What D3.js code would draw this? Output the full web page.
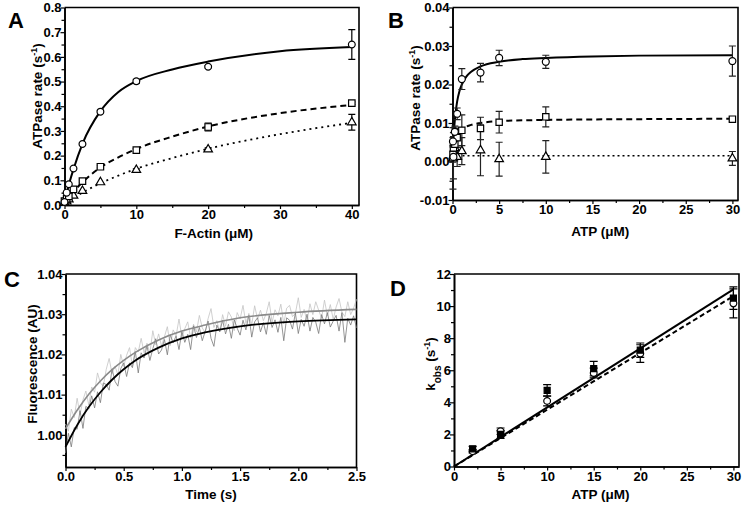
<!DOCTYPE html>
<html><head><meta charset="utf-8">
<script src="https://cdn.jsdelivr.net/npm/d3@7"></script>
<style>body{margin:0;background:#fff}</style>
</head><body><svg id="c" width="745" height="509"></svg>
<script>
// ---------- Panel A data ----------
const aX = [0, 0.3, 0.6, 1.25, 2.5, 5, 10, 20, 40];
const aCircleY = [0.012, 0.05, 0.084, 0.148, 0.247, 0.378, 0.501, 0.56, 0.65];
const aCircleErr = [0, 0, 0, 0, 0.005, 0.005, 0.008, 0.005, 0.06];
const aSquareY = [0.016, 0.025, 0.035, 0.063, 0.097, 0.155, 0.222, 0.316, 0.413];
const aSquareErr = [0.004, 0, 0, 0, 0.005, 0.005, 0.006, 0.016, 0.005];
const aTriY = [0.008, 0.015, 0.023, 0.038, 0.057, 0.092, 0.142, 0.225, 0.335];
const aTriErr = [0, 0, 0, 0, 0, 0, 0.004, 0.006, 0.032];
const aFitX = [0, 0.5, 1.25, 2.5, 5, 7.5, 10, 15, 20, 30, 40];
const aFitSolidY = [0.005, 0.07, 0.145, 0.248, 0.38, 0.458, 0.502, 0.549, 0.581, 0.623, 0.64];
const aFitDashedY = [0.01, 0.032, 0.055, 0.092, 0.152, 0.193, 0.227, 0.277, 0.318, 0.372, 0.405];
const aFitDottedY = [0.004, 0.015, 0.028, 0.05, 0.088, 0.119, 0.147, 0.19, 0.228, 0.287, 0.333];
const aXTicks = [0, 10, 20, 30, 40];
const aXLabels = ["0", "10", "20", "30", "40"];
const aXMinor = [5, 15, 25, 35];
const aYTicks = [0, 0.1, 0.2, 0.3, 0.4, 0.5, 0.6, 0.7, 0.8];
const aYLabels = ["0.0", "0.1", "0.2", "0.3", "0.4", "0.5", "0.6", "0.7", "0.8"];
const aYMinor = [0.05, 0.15, 0.25, 0.35, 0.45, 0.55, 0.65, 0.75];

// ---------- Panel B data ----------
const bX = [0.05, 0.1, 0.25, 0.5, 1, 3, 5, 10, 30];
const bCircleY = [0.0052, 0.0012, 0.0077, 0.0124, 0.0214, 0.0231, 0.0269, 0.0259, 0.0261];
const bCircleErr = [0.001, 0.001, 0.0015, 0.0015, 0.0027, 0.0024, 0.002, 0.0017, 0.0039];
const bSquareY = [0.0018, 0.0035, 0.0045, 0.0062, 0.0081, 0.0086, 0.0102, 0.0116, 0.0110];
const bSquareErr = [0.002, 0.003, 0.004, 0.0025, 0.004, 0.0029, 0.0028, 0.0026, 0.0005];
const bTriY = [0.0008, 0.0015, 0.0035, 0.0012, 0.0027, 0.0029, 0.0006, 0.0012, 0.0008];
const bTriErr = [0.008, 0.006, 0.003, 0.0025, 0.0035, 0.0066, 0.0044, 0.0042, 0.0018];
const bFitSolidX = [0, 0.1, 0.2, 0.3, 0.5, 0.75, 1, 1.5, 2, 3, 5, 7.5, 10, 15, 20, 30];
const bFitSolidY = [0, 0.0056, 0.0093, 0.012, 0.0156, 0.0183, 0.02, 0.0221, 0.0233, 0.0247, 0.0259, 0.0266, 0.0269, 0.0273, 0.0275, 0.0276];
const bFitDashedX = [0, 0.1, 0.25, 0.5, 1, 2, 3, 5, 10, 20, 30];
const bFitDashedY = [0, 0.0025, 0.0047, 0.0066, 0.0083, 0.0095, 0.0100, 0.0105, 0.0108, 0.0110, 0.0111];
const bFitDottedX = [0, 30];
const bFitDottedY = [0.0015, 0.0015];
const bXTicks = [0, 5, 10, 15, 20, 25, 30];
const bXLabels = ["0", "5", "10", "15", "20", "25", "30"];
const bXMinor = [2.5, 7.5, 12.5, 17.5, 22.5, 27.5];
const bYTicks = [-0.01, 0, 0.01, 0.02, 0.03, 0.04];
const bYLabels = ["-0.01", "0.00", "0.01", "0.02", "0.03", "0.04"];
const bYMinor = [-0.005, 0.005, 0.015, 0.025, 0.035];

// ---------- Panel C data ----------
const cTime = [0,0.025,0.05,0.075,0.1,0.125,0.15,0.175,0.2,0.225,
0.25,0.275,0.3,0.325,0.35,0.375,0.4,0.425,0.45,0.475,
0.5,0.525,0.55,0.575,0.6,0.625,0.65,0.675,0.7,0.725,
0.75,0.775,0.8,0.825,0.85,0.875,0.9,0.925,0.95,0.975,
1,1.025,1.05,1.075,1.1,1.125,1.15,1.175,1.2,1.225,
1.25,1.275,1.3,1.325,1.35,1.375,1.4,1.425,1.45,1.475,
1.5,1.525,1.55,1.575,1.6,1.625,1.65,1.675,1.7,1.725,
1.75,1.775,1.8,1.825,1.85,1.875,1.9,1.925,1.95,1.975,
2,2.025,2.05,2.075,2.1,2.125,2.15,2.175,2.2,2.225,
2.25,2.275,2.3,2.325,2.35,2.375,2.4,2.425,2.45,2.475,2.5];
const cLightTrace = [1.0027,1.0009,1.0064,1.0043,1.0091,1.0050,1.0087,1.0109,1.0074,1.0119,
1.0106,1.0154,1.0129,1.0121,1.0163,1.0190,1.0152,1.0171,1.0149,1.0200,
1.0170,1.0198,1.0217,1.0170,1.0217,1.0206,1.0240,1.0204,1.0228,1.0203,
1.0259,1.0224,1.0251,1.0221,1.0244,1.0269,1.0222,1.0261,1.0246,1.0288,
1.0242,1.0264,1.0281,1.0241,1.0275,1.0256,1.0297,1.0266,1.0254,1.0289,
1.0314,1.0267,1.0284,1.0257,1.0299,1.0270,1.0306,1.0293,1.0259,1.0304,
1.0288,1.0322,1.0277,1.0302,1.0274,1.0321,1.0288,1.0310,1.0284,1.0302,
1.0331,1.0280,1.0311,1.0296,1.0325,1.0276,1.0315,1.0322,1.0294,1.0302,
1.0341,1.0292,1.0312,1.0281,1.0326,1.0299,1.0331,1.0310,1.0290,1.0335,
1.0296,1.0324,1.0287,1.0318,1.0339,1.0305,1.0294,1.0331,1.0299,1.0315,1.0337];
const cDarkTrace = [0.9955,1.0004,0.9970,1.0018,1.0014,1.0060,1.0016,1.0071,1.0064,1.0097,
1.0067,1.0107,1.0080,1.0129,1.0125,1.0111,1.0164,1.0133,1.0121,1.0165,
1.0179,1.0145,1.0179,1.0167,1.0207,1.0154,1.0204,1.0191,1.0221,1.0185,
1.0214,1.0239,1.0201,1.0211,1.0237,1.0199,1.0249,1.0229,1.0246,1.0212,
1.0257,1.0230,1.0250,1.0212,1.0271,1.0242,1.0267,1.0234,1.0257,1.0283,
1.0240,1.0220,1.0273,1.0256,1.0285,1.0251,1.0275,1.0240,1.0286,1.0265,
1.0248,1.0285,1.0261,1.0297,1.0243,1.0281,1.0291,1.0256,1.0279,1.0250,
1.0297,1.0267,1.0286,1.0255,1.0292,1.0234,1.0291,1.0285,1.0263,1.0303,
1.0252,1.0287,1.0270,1.0300,1.0258,1.0292,1.0280,1.0252,1.0299,1.0276,
1.0304,1.0268,1.0283,1.0297,1.0258,1.0304,1.0230,1.0290,1.0273,1.0296,1.0266];
const cFitT = [0, 0.1, 0.2, 0.3, 0.4, 0.5, 0.6, 0.8, 1.0, 1.2, 1.5, 2.0, 2.5];
const cFitGrayY = [1.0015, 1.0061, 1.0101, 1.0134, 1.0162, 1.0185, 1.0205, 1.0236, 1.0258, 1.0273, 1.0291, 1.0305, 1.0312];
const cFitBlackY = [0.9970, 1.0024, 1.0069, 1.0106, 1.0137, 1.0163, 1.0185, 1.0217, 1.0240, 1.0255, 1.0270, 1.0282, 1.0287];
const cXTicks = [0, 0.5, 1, 1.5, 2, 2.5];
const cXLabels = ["0.0", "0.5", "1.0", "1.5", "2.0", "2.5"];
const cXMinor = [0.25, 0.75, 1.25, 1.75, 2.25];
const cYTicks = [1.00, 1.01, 1.02, 1.03, 1.04];
const cYLabels = ["1.00", "1.01", "1.02", "1.03", "1.04"];
const cYMinor = [0.995, 1.005, 1.015, 1.025, 1.035];

// ---------- Panel D data ----------
const dX = [2, 5, 10, 15, 20, 30];
const dSquareY = [1.1, 2.0, 4.75, 6.1, 7.25, 10.5];
const dSquareErr = [0.15, 0.25, 0.35, 0.45, 0.45, 0.7];
const dCircleY = [0.95, 2.2, 4.08, 5.83, 7.04, 10.17];
const dCircleErr = [0.1, 0.2, 0.3, 0.3, 0.55, 0.9];
const dFitX = [0, 30];
const dFitSolidY = [0, 11.04];
const dFitDashedY = [0, 10.62];
const dXTicks = [0, 5, 10, 15, 20, 25, 30];
const dXLabels = ["0", "5", "10", "15", "20", "25", "30"];
const dXMinor = [2.5, 7.5, 12.5, 17.5, 22.5, 27.5];
const dYTicks = [0, 2, 4, 6, 8, 10, 12];
const dYLabels = ["0", "2", "4", "6", "8", "10", "12"];
const dYMinor = [1, 3, 5, 7, 9, 11];

// ---------- drawing ----------
const svg = d3.select("#c");
const FONT = "Arial, 'Liberation Sans', Helvetica, sans-serif";
const TICK_FS = 13, TITLE_FS = 13.5, LETTER_FS = 22;

function panel(o) {
  const x = d3.scaleLinear().domain(o.xDomain).range(o.xRange);
  const y = d3.scaleLinear().domain(o.yDomain).range(o.yRange);
  const g = svg.append("g");
  const ax = (axis, tr) => {
    const a = g.append("g").attr("transform", tr).call(axis);
    a.attr("font-family", FONT).attr("font-size", TICK_FS).attr("font-weight", "bold");
    a.select(".domain").attr("stroke-width", 1.6);
    a.selectAll(".tick line").attr("stroke-width", 1.2);
    return a;
  };
  const bx = `translate(0,${o.yRange[0]})`, ly = `translate(${o.xRange[0]},0)`;
  ax(d3.axisBottom(x).tickValues(o.xMinor).tickFormat("").tickSize(3).tickSizeOuter(0), bx);
  ax(d3.axisLeft(y).tickValues(o.yMinor).tickFormat("").tickSize(3).tickSizeOuter(0), ly);
  ax(d3.axisBottom(x).tickValues(o.xTicks).tickFormat((d, i) => o.xLabels[i]).tickSize(4).tickPadding(1).tickSizeOuter(0), bx);
  ax(d3.axisLeft(y).tickValues(o.yTicks).tickFormat((d, i) => o.yLabels[i]).tickSize(4).tickPadding(-1).tickSizeOuter(0), ly);
  g.append("path")
    .attr("d", `M${o.xRange[0]},${o.yRange[1]}H${o.xRange[1]}V${o.yRange[0]}`)
    .attr("fill", "none").attr("stroke", "#000").attr("stroke-width", 1.6);
  g.append("text").attr("x", (o.xRange[0] + o.xRange[1]) / 2 + (o.xTitleDx || 0)).attr("y", o.xTitleY)
    .attr("text-anchor", "middle").attr("font-family", FONT).attr("font-weight", "bold").attr("font-size", TITLE_FS)
    .text(o.xTitle);
  const yt = g.append("text").attr("transform", `translate(${o.yTitleX},${o.yTitleCY}) rotate(-90)`)
    .attr("text-anchor", "middle").attr("dy", "0.35em").attr("font-family", FONT).attr("font-weight", "bold").attr("font-size", TITLE_FS);
  o.yTitle(yt);
  g.append("text").attr("x", o.letterX).attr("y", o.letterY).attr("font-family", FONT)
    .attr("font-weight", "bold").attr("font-size", LETTER_FS).text(o.letter);
  return { g, x, y };
}

function drawLine(p, xs, ys, dash, width, color, curve) {
  const line = d3.line().x(d => p.x(d[0])).y(d => p.y(d[1])).curve(curve || d3.curveMonotoneX);
  p.g.append("path").datum(xs.map((v, i) => [v, ys[i]])).attr("d", line)
    .attr("fill", "none").attr("stroke", color || "#000").attr("stroke-width", width)
    .attr("stroke-dasharray", dash || null);
}
function errBars(p, xs, ys, es, cap, color) {
  xs.forEach((xv, i) => {
    if (!es[i]) return;
    const cx = p.x(xv), y1 = p.y(ys[i] - es[i]), y2 = p.y(ys[i] + es[i]);
    p.g.append("path").attr("d", `M${cx},${y1}V${y2}M${cx - cap},${y1}H${cx + cap}M${cx - cap},${y2}H${cx + cap}`)
      .attr("stroke", color || "#000").attr("stroke-width", 1.2).attr("fill", "none");
  });
}
function markers(p, xs, ys, type, fill, size) {
  const sym = { circle: d3.symbolCircle, square: d3.symbolSquare, triangle: d3.symbolTriangle }[type];
  p.g.append("g").selectAll("path").data(xs.map((v, i) => [v, ys[i]])).join("path")
    .attr("transform", d => `translate(${p.x(d[0])},${p.y(d[1])})`)
    .attr("d", d3.symbol(sym).size(size))
    .attr("fill", fill).attr("stroke", "#000").attr("stroke-width", 1.2);
}
const titleWithSup = (label) => (t) => {
  t.append("tspan").text(label + " (s");
  t.append("tspan").attr("baseline-shift", "super").attr("font-size", 9).text("-1");
  t.append("tspan").text(")");
};

// Panel A
const A = panel({
  xDomain: [0, 41], xRange: [64.5, 359], yDomain: [0, 0.8], yRange: [205, 7.5],
  xTicks: aXTicks, xLabels: aXLabels, xMinor: aXMinor, yTicks: aYTicks, yLabels: aYLabels, yMinor: aYMinor,
  xTitle: "F-Actin (\u03bcM)", xTitleY: 238, xTitleDx: 2, yTitleX: 37, yTitleCY: 96, yTitle: titleWithSup("ATPase rate"),
  letter: "A", letterX: 8, letterY: 28
});
drawLine(A, aFitX, aFitSolidY, null, 2);
drawLine(A, aFitX, aFitDashedY, "6,4", 2);
drawLine(A, aFitX, aFitDottedY, "2,4", 1.8);
errBars(A, aX, aCircleY, aCircleErr, 3.5);
errBars(A, aX, aSquareY, aSquareErr, 3.5);
errBars(A, aX, aTriY, aTriErr, 3.5);
markers(A, aX, aTriY, "triangle", "#fff", 32);
markers(A, aX, aSquareY, "square", "#fff", 42);
markers(A, aX, aCircleY, "circle", "#fff", 36);

// Panel B
const B = panel({
  xDomain: [0, 30.6], xRange: [452.5, 738], yDomain: [-0.01, 0.04], yRange: [200, 7.5],
  xTicks: bXTicks, xLabels: bXLabels, xMinor: bXMinor, yTicks: bYTicks, yLabels: bYLabels, yMinor: bYMinor,
  xTitle: "ATP (\u03bcM)", xTitleY: 236, xTitleDx: 5, yTitleX: 415, yTitleCY: 98, yTitle: titleWithSup("ATPase rate"),
  letter: "B", letterX: 388, letterY: 28
});
drawLine(B, bFitSolidX, bFitSolidY, null, 2);
drawLine(B, bFitDashedX, bFitDashedY, "6,4", 2);
drawLine(B, bFitDottedX, bFitDottedY, "2,3", 1.6, "#000", d3.curveLinear);
errBars(B, bX, bTriY, bTriErr, 3.5, "#222");
errBars(B, bX, bSquareY, bSquareErr, 3.5, "#222");
errBars(B, bX, bCircleY, bCircleErr, 3.5, "#222");
markers(B, bX, bTriY, "triangle", "#fff", 32);
markers(B, bX, bSquareY, "square", "#fff", 40);
markers(B, bX, bCircleY, "circle", "#fff", 38);

// Panel C
const C = panel({
  xDomain: [0, 2.5], xRange: [65.5, 356.5], yDomain: [0.992, 1.04], yRange: [467, 274],
  xTicks: cXTicks, xLabels: cXLabels, xMinor: cXMinor, yTicks: cYTicks, yLabels: cYLabels, yMinor: cYMinor,
  xTitle: "Time (s)", xTitleY: 499, yTitleX: 32, yTitleCY: 364,
  yTitle: t => t.text("Fluorescence (AU)"),
  letter: "C", letterX: 4, letterY: 287
});
drawLine(C, cTime, cLightTrace, null, 0.8, "#c4c4c4", d3.curveLinear);
drawLine(C, cTime, cDarkTrace, null, 0.8, "#7a7a7a", d3.curveLinear);
drawLine(C, cFitT, cFitGrayY, null, 1.6, "#8a8a8a");
drawLine(C, cFitT, cFitBlackY, null, 1.8, "#000");

// Panel D
const D = panel({
  xDomain: [0, 30.6], xRange: [454, 739], yDomain: [0, 12], yRange: [466.5, 274],
  xTicks: dXTicks, xLabels: dXLabels, xMinor: dXMinor, yTicks: dYTicks, yLabels: dYLabels, yMinor: dYMinor,
  xTitle: "ATP (\u03bcM)", xTitleY: 499, xTitleDx: 4, yTitleX: 430, yTitleCY: 364,
  yTitle: t => {
    t.append("tspan").text("k");
    t.append("tspan").attr("baseline-shift", "sub").attr("font-size", 10).text("obs");
    t.append("tspan").text(" (s");
    t.append("tspan").attr("baseline-shift", "super").attr("font-size", 9).text("-1");
    t.append("tspan").text(")");
  },
  letter: "D", letterX: 390, letterY: 296
});
drawLine(D, dFitX, dFitSolidY, null, 2, "#000", d3.curveLinear);
drawLine(D, dFitX, dFitDashedY, "5,3", 2, "#000", d3.curveLinear);
errBars(D, dX, dSquareY, dSquareErr, 4);
errBars(D, dX, dCircleY, dCircleErr, 4);
markers(D, dX, dCircleY, "circle", "#fff", 36);
markers(D, dX, dSquareY, "square", "#000", 36);
</script>
</body></html>
